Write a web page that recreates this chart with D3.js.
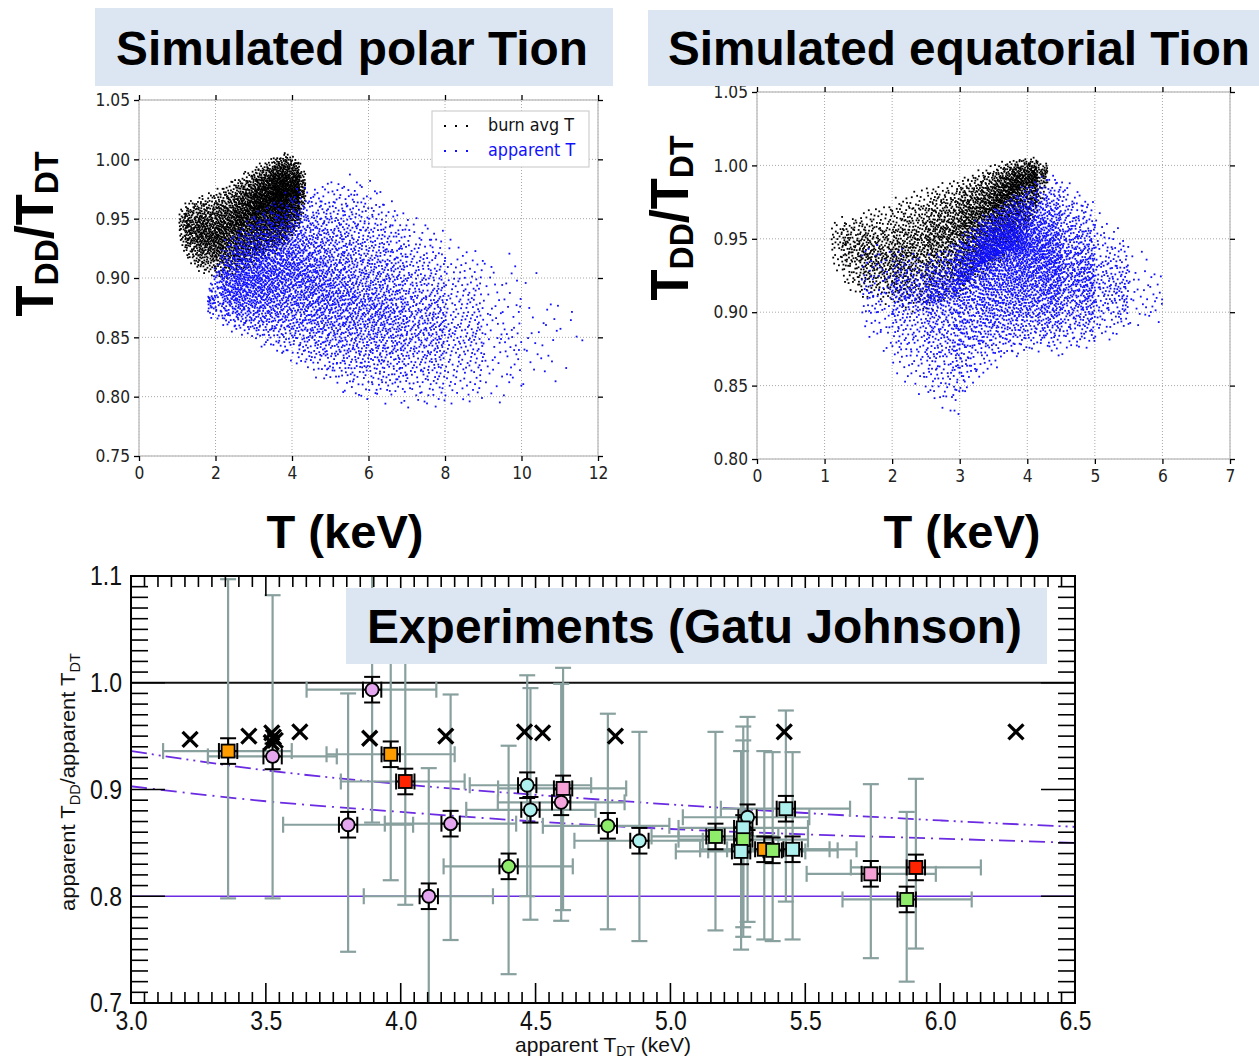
<!DOCTYPE html>
<html><head><meta charset="utf-8">
<script src="https://cdn.jsdelivr.net/npm/d3@7"></script>
<style>body{margin:0;background:#fff}svg{display:block}</style>
</head><body>
<svg id="c" width="1259" height="1062"></svg>
<script>
// ================= DATA =================
// Scatter clouds: profiles (x knot, lower edge, densest y, upper edge, points per 0.1 keV)
const polarBurnX    = [1.05, 1.2, 1.5, 2.0, 2.5, 3.0, 3.5, 3.9, 4.2, 4.35];
const polarBurnLo   = [0.928, 0.918, 0.903, 0.9, 0.898, 0.907, 0.918, 0.925, 0.942, 0.958];
const polarBurnMid  = [0.945, 0.943, 0.938, 0.936, 0.944, 0.955, 0.965, 0.97, 0.972, 0.975];
const polarBurnHi   = [0.96, 0.966, 0.97, 0.976, 0.986, 0.995, 1.003, 1.008, 1.0, 0.992];
const polarBurnN    = [4, 35, 65, 80, 95, 125, 165, 175, 70, 6];

const polarAppX     = [1.8, 2.15, 2.5, 3.0, 4.0, 5.0, 5.7, 6.5, 7.0, 8.0, 9.0, 10.0, 11.0, 11.6];
const polarAppLo    = [0.866, 0.858, 0.852, 0.845, 0.826, 0.806, 0.794, 0.792, 0.788, 0.787, 0.787, 0.795, 0.81, 0.84];
const polarAppMid   = [0.878, 0.893, 0.895, 0.90, 0.905, 0.892, 0.885, 0.876, 0.87, 0.86, 0.855, 0.85, 0.85, 0.85];
const polarAppHi    = [0.89, 0.93, 0.942, 0.957, 0.977, 0.987, 0.992, 0.973, 0.962, 0.942, 0.93, 0.922, 0.895, 0.862];
const polarAppN     = [3, 36, 60, 78, 85, 80, 72, 62, 52, 32, 13, 4, 1.5, 0.5];

const eqBurnX       = [1.1, 1.25, 1.5, 2.0, 2.5, 3.0, 3.5, 3.9, 4.15, 4.3];
const eqBurnLo      = [0.928, 0.918, 0.908, 0.903, 0.897, 0.907, 0.927, 0.942, 0.966, 0.982];
const eqBurnMid     = [0.948, 0.946, 0.941, 0.937, 0.945, 0.955, 0.97, 0.985, 0.99, 0.995];
const eqBurnHi      = [0.964, 0.968, 0.969, 0.979, 0.988, 0.993, 1.002, 1.006, 1.006, 1.002];
const eqBurnN       = [4, 30, 55, 70, 95, 120, 160, 180, 70, 5];

const eqAppX        = [1.55, 2.0, 2.5, 2.9, 3.3, 3.7, 4.0, 4.5, 5.0, 5.5, 6.0];
const eqAppLo       = [0.886, 0.856, 0.838, 0.823, 0.853, 0.864, 0.87, 0.869, 0.874, 0.884, 0.892];
const eqAppMid      = [0.915, 0.91, 0.905, 0.91, 0.932, 0.942, 0.94, 0.932, 0.922, 0.915, 0.91];
const eqAppHi       = [0.952, 0.946, 0.94, 0.95, 0.966, 0.978, 0.99, 0.998, 0.976, 0.952, 0.934];
const eqAppN        = [5, 35, 70, 110, 170, 210, 210, 150, 65, 15, 1];

const polarXTicks = [0, 2, 4, 6, 8, 10, 12];
const polarYTicks = [0.75, 0.80, 0.85, 0.90, 0.95, 1.00, 1.05];
const eqXTicks    = [0, 1, 2, 3, 4, 5, 6, 7];
const eqYTicks    = [0.80, 0.85, 0.90, 0.95, 1.00, 1.05];
const legendLabels = ["burn avg T", "apparent T"];

// Experiments (bottom panel)
const expT   = [3.36, 3.525, 3.805, 3.894, 3.963, 4.017, 4.104, 4.185, 4.400, 4.469, 4.481, 4.602, 4.595, 4.768, 4.885, 5.167, 5.286, 5.27, 5.27, 5.262, 5.348, 5.379, 5.453, 5.428, 5.743, 5.91, 5.876];
const expR   = [0.936, 0.931, 0.867, 0.9935, 0.933, 0.9075, 0.800, 0.868, 0.828, 0.904, 0.881, 0.901, 0.888, 0.866, 0.852, 0.856, 0.874, 0.864, 0.853, 0.842, 0.844, 0.843, 0.844, 0.882, 0.821, 0.827, 0.797];
const expTLo = [3.119, 3.285, 3.564, 3.651, 3.725, 3.778, 3.863, 3.941, 4.159, 4.256, 4.243, 4.361, 4.36, 4.527, 4.644, 4.93, 5.046, 5.03, 5.03, 5.02, 5.11, 5.14, 5.21, 5.187, 5.505, 5.669, 5.638];
const expTHi = [3.596, 3.763, 4.046, 4.132, 4.2, 4.237, 4.342, 4.428, 4.638, 4.706, 4.722, 4.836, 4.83, 4.996, 5.12, 5.40, 5.515, 5.51, 5.51, 5.50, 5.59, 5.62, 5.69, 5.666, 5.984, 6.151, 6.117];
const expRLo = [0.798, 0.798, 0.748, 0.869, 0.815, 0.792, 0.68, 0.759, 0.727, 0.80, 0.778, 0.787, 0.777, 0.769, 0.758, 0.768, 0.776, 0.771, 0.762, 0.75, 0.7595, 0.758, 0.7595, 0.795, 0.742, 0.751, 0.72];
const expRHi = [1.097, 1.082, 0.99, 1.118, 1.051, 1.023, 0.920, 0.989, 0.941, 1.007, 0.995, 1.014, 0.999, 0.971, 0.954, 0.954, 0.968, 0.959, 0.946, 0.936, 0.936, 0.935, 0.935, 0.974, 0.905, 0.910, 0.879];
const expGroup = ['A','B','B','B','A','C','B','B','D','E','E','F','I','D','E','G','E','H','G','H','A','G','H','H','F','C','G'];
const statErrR = 0.012;   // small black error on ratio
const statErrT = 0.034;   // small black error on T

const modelT = [3.219, 3.437, 3.522, 3.528, 3.535, 3.52, 3.626, 3.885, 4.167, 4.459, 4.526, 4.796, 5.422, 6.281];
const modelR = [0.947, 0.950, 0.953, 0.949, 0.946, 0.944, 0.954, 0.948, 0.950, 0.954, 0.953, 0.950, 0.954, 0.954];

const curveT     = [3.0, 3.5, 4.0, 4.5, 5.0, 5.5, 6.0, 6.5];
const curveUpper = [0.936, 0.918, 0.905, 0.895, 0.886, 0.878, 0.871, 0.865];
const curveLower = [0.903, 0.889, 0.879, 0.870, 0.863, 0.858, 0.854, 0.850];
const refBlack = 1.0;
const refPurple = 0.8;

const bXTicks = [3.0, 3.5, 4.0, 4.5, 5.0, 5.5, 6.0, 6.5];
const bYTicks = [0.7, 0.8, 0.9, 1.0, 1.1];

// ================= STYLES =================
const groupFill  = {A:'#ff9c00', B:'#e4a6ee', C:'#ff2400', D:'#8eec6a', E:'#aef0ee', F:'#f7a2d6', G:'#8eec6a', H:'#aef0ee', I:'#f3a5dc'};
const groupShape = {A:'s', B:'c', C:'s', D:'c', E:'c', F:'s', G:'s', H:'s', I:'c'};
const BOX = '#dce6f2';
const PURPLE = '#6a2be2';
const GRAYBAR = '#88a09e';

const svg = d3.select('#c');
svg.append('rect').attr('width',1259).attr('height',1062).attr('fill','#fff');
const defs = svg.append('defs');

function halton(i,b){let f=1,r=0;while(i>0){f/=b;r+=f*(i%b);i=Math.floor(i/b);}return r;}
// spread points of a profile over its band (denser near the densest line, thinning toward the edges)
function cloud(xs,lo,mid,hi,dens,seed){
  const pts=[]; let idx=seed;
  for(let i=0;i<xs.length-1;i++){
    const w=xs[i+1]-xs[i];
    const n=Math.round((dens[i]+dens[i+1])/2*w*10);
    for(let k=0;k<n;k++){
      idx++;
      const u=halton(idx,2), v=halton(idx,3);
      const x=xs[i]+u*w;
      const L=lo[i]+(lo[i+1]-lo[i])*u, M=mid[i]+(mid[i+1]-mid[i])*u, H=hi[i]+(hi[i+1]-hi[i])*u;
      const t=2*v-1, a=Math.abs(t);
      const s=Math.sign(t)*(0.12*a+0.88*(1-Math.sqrt(1-a)));
      const y = s<0 ? M+s*(M-L) : M+s*(H-M);
      pts.push([x,y]);
    }
  }
  return pts;
}

function topPanel(id, xs, ys, xTicks, yTicks, series){
  const g=svg.append('g');
  const [x0,x1]=xs.range(), [y0,y1]=ys.range();
  g.append('g').selectAll('line').data(xTicks).join('line')
    .attr('x1',d=>xs(d)).attr('x2',d=>xs(d)).attr('y1',y0).attr('y2',y1)
    .attr('stroke','#a8a8a8').attr('stroke-dasharray','1,2');
  g.append('g').selectAll('line').data(yTicks).join('line')
    .attr('y1',d=>ys(d)).attr('y2',d=>ys(d)).attr('x1',x0).attr('x2',x1)
    .attr('stroke','#a8a8a8').attr('stroke-dasharray','1,2');
  defs.append('clipPath').attr('id',id).append('rect')
    .attr('x',x0).attr('y',y1).attr('width',x1-x0).attr('height',y0-y1);
  series.forEach((s,si)=>{
    const pts=cloud(s.x,s.lo,s.mid,s.hi,s.n,1+si*7919);
    g.append('g').attr('clip-path',`url(#${id})`).selectAll('rect').data(pts).join('rect')
      .attr('x',d=>xs(d[0])-0.9).attr('y',d=>ys(d[1])-0.9)
      .attr('width',1.8).attr('height',1.8).attr('fill',s.color);
  });
  g.append('rect').attr('x',x0).attr('y',y1).attr('width',x1-x0).attr('height',y0-y1)
    .attr('fill','none').attr('stroke','#c4c4c4').attr('stroke-width',1.5);
  const axes=[
    [d3.axisBottom(xs).tickValues(xTicks).tickFormat(d3.format('d')), `translate(0,${y0})`],
    [d3.axisTop(xs).tickValues(xTicks).tickFormat(''), `translate(0,${y1})`],
    [d3.axisLeft(ys).tickValues(yTicks).tickFormat(d3.format('.2f')), `translate(${x0},0)`],
    [d3.axisRight(ys).tickValues(yTicks).tickFormat(''), `translate(${x1},0)`]
  ];
  axes.forEach(([a,tr])=>{
    const ag=g.append('g').attr('transform',tr).call(a.tickSizeInner(5).tickSizeOuter(0).tickPadding(4));
    ag.select('.domain').remove();
    ag.selectAll('line').attr('stroke','#000').attr('stroke-width',1.3);
    ag.selectAll('text').attr('font-family','DejaVu Sans, sans-serif').attr('font-size',15.5)
      .attr('fill','#222').attr('transform','scale(1,1.15)');
  });
  return g;
}

// ---- top-left (polar)
const xTL=d3.scaleLinear().domain([0,12]).range([139,598]);
const yTL=d3.scaleLinear().domain([0.75,1.05]).range([456,100]);
const gTL=topPanel('clipTL',xTL,yTL,polarXTicks,polarYTicks,[
  {x:polarBurnX,lo:polarBurnLo,mid:polarBurnMid,hi:polarBurnHi,n:polarBurnN,color:'#000'},
  {x:polarAppX,lo:polarAppLo,mid:polarAppMid,hi:polarAppHi,n:polarAppN,color:'#1010ff'}
]);
// legend
const lg=gTL.append('g');
lg.append('rect').attr('x',432).attr('y',111).attr('width',157).attr('height',56)
  .attr('fill','#fff').attr('stroke','#cfcfcf').attr('stroke-width',1.2);
legendLabels.forEach((lab,i)=>{
  const yy=126+i*25;
  [445,456,467].forEach(xx=>lg.append('rect').attr('x',xx-1).attr('y',yy-1).attr('width',2).attr('height',2)
     .attr('fill',i?'#1010ff':'#000'));
  lg.append('text').attr('transform',`translate(488,${yy+5}) scale(1,1.15)`)
    .attr('font-family','DejaVu Sans, sans-serif').attr('font-size',16)
    .attr('fill',i?'#1010ff':'#111').text(lab);
});

// ---- top-right (equatorial)
const xTR=d3.scaleLinear().domain([0,7]).range([757,1230]);
const yTR=d3.scaleLinear().domain([0.80,1.05]).range([459,92]);
topPanel('clipTR',xTR,yTR,eqXTicks,eqYTicks,[
  {x:eqBurnX,lo:eqBurnLo,mid:eqBurnMid,hi:eqBurnHi,n:eqBurnN,color:'#000'},
  {x:eqAppX,lo:eqAppLo,mid:eqAppMid,hi:eqAppHi,n:eqAppN,color:'#1010ff'}
]);

// ---- titles & big labels
function titleBox(x,y,w,h,tx,ty,txt,len){
  svg.append('rect').attr('x',x).attr('y',y).attr('width',w).attr('height',h).attr('fill',BOX);
  svg.append('text').attr('x',tx).attr('y',ty).attr('font-family','Liberation Sans, Arial, sans-serif')
    .attr('font-weight','bold').attr('font-size',48).attr('fill','#000')
    .attr('textLength',len).attr('lengthAdjust','spacingAndGlyphs').text(txt);
}
titleBox(95,8,518,78,116,65,'Simulated polar Tion',472);
titleBox(648,10,611,76,668,65,'Simulated equatorial Tion',582);

function ratioLabel(cx,cy){
  const t=svg.append('text').attr('transform',`translate(${cx},${cy}) rotate(-90)`)
    .attr('text-anchor','middle').attr('font-family','Liberation Sans, Arial, sans-serif')
    .attr('font-weight','bold').attr('font-size',54).attr('fill','#000')
    .attr('textLength',165).attr('lengthAdjust','spacingAndGlyphs');
  t.append('tspan').text('T');
  t.append('tspan').attr('font-size',34).attr('dy',5).text('DD');
  t.append('tspan').attr('dy',-5).text('/T');
  t.append('tspan').attr('font-size',34).attr('dy',5).text('DT');
}
ratioLabel(53,234);
ratioLabel(688,218);
[[345,'T (keV)'],[962,'T (keV)']].forEach(([cx,txt])=>{
  svg.append('text').attr('x',cx).attr('y',548).attr('text-anchor','middle')
    .attr('font-family','Liberation Sans, Arial, sans-serif').attr('font-weight','bold')
    .attr('font-size',46).attr('textLength',157).attr('lengthAdjust','spacingAndGlyphs').text(txt);
});

// ================= BOTTOM PANEL =================
const xB=d3.scaleLinear().domain([3,6.5]).range([131,1075]);
const yB=d3.scaleLinear().domain([0.7,1.1]).range([1003,576]);
defs.append('clipPath').attr('id','clipB').append('rect').attr('x',131).attr('y',576).attr('width',944).attr('height',427);
const gB=svg.append('g');
const gc=gB.append('g').attr('clip-path','url(#clipB)');

gc.append('line').attr('x1',xB(3)).attr('x2',xB(6.5)).attr('y1',yB(refPurple)).attr('y2',yB(refPurple))
  .attr('stroke',PURPLE).attr('stroke-width',1.6);
gc.append('line').attr('x1',xB(3)).attr('x2',xB(6.5)).attr('y1',yB(refBlack)).attr('y2',yB(refBlack))
  .attr('stroke','#111').attr('stroke-width',2);
const lineGen=d3.line().x(d=>xB(d[0])).y(d=>yB(d[1])).curve(d3.curveMonotoneX);
gc.append('path').attr('d',lineGen(curveT.map((t,i)=>[t,curveUpper[i]]))).attr('fill','none')
  .attr('stroke',PURPLE).attr('stroke-width',1.8).attr('stroke-dasharray','16,5,2,5,2,5');
gc.append('path').attr('d',lineGen(curveT.map((t,i)=>[t,curveLower[i]]))).attr('fill','none')
  .attr('stroke',PURPLE).attr('stroke-width',1.8).attr('stroke-dasharray','16,6,2,6');

const pts=expT.map((t,i)=>({t,r:expR[i],tl:expTLo[i],th:expTHi[i],rl:expRLo[i],rh:expRHi[i],g:expGroup[i]}));
// gray (systematic) error bars
const gb=gc.append('g').attr('stroke',GRAYBAR).attr('stroke-width',2.2).attr('fill','none');
pts.forEach(p=>{
  const x=xB(p.t), y=yB(p.r);
  gb.append('line').attr('x1',x).attr('x2',x).attr('y1',yB(p.rl)).attr('y2',yB(p.rh));
  gb.append('line').attr('x1',x-8).attr('x2',x+8).attr('y1',yB(p.rl)).attr('y2',yB(p.rl));
  gb.append('line').attr('x1',x-8).attr('x2',x+8).attr('y1',yB(p.rh)).attr('y2',yB(p.rh));
  gb.append('line').attr('x1',xB(p.tl)).attr('x2',xB(p.th)).attr('y1',y).attr('y2',y);
  gb.append('line').attr('x1',xB(p.tl)).attr('x2',xB(p.tl)).attr('y1',y-8).attr('y2',y+8);
  gb.append('line').attr('x1',xB(p.th)).attr('x2',xB(p.th)).attr('y1',y-8).attr('y2',y+8);
});
// crosses (model)
const gx=gc.append('g').attr('stroke','#000').attr('stroke-width',3.3);
modelT.forEach((t,i)=>{
  const x=xB(t), y=yB(modelR[i]), s=7.5;
  gx.append('path').attr('d',`M${x-s},${y-s}L${x+s},${y+s}M${x-s},${y+s}L${x+s},${y-s}`);
});
// black stat error bars
const gs=gc.append('g').attr('stroke','#000').attr('stroke-width',2).attr('fill','none');
pts.forEach(p=>{
  const x=xB(p.t), y=yB(p.r);
  const ya=yB(p.r+statErrR), yb=yB(p.r-statErrR), xa=xB(p.t-statErrT), xb=xB(p.t+statErrT);
  gs.append('line').attr('x1',x).attr('x2',x).attr('y1',ya).attr('y2',yb);
  gs.append('line').attr('x1',x-8).attr('x2',x+8).attr('y1',ya).attr('y2',ya);
  gs.append('line').attr('x1',x-8).attr('x2',x+8).attr('y1',yb).attr('y2',yb);
  gs.append('line').attr('x1',xa).attr('x2',xb).attr('y1',y).attr('y2',y);
  gs.append('line').attr('x1',xa).attr('x2',xa).attr('y1',y-8).attr('y2',y+8);
  gs.append('line').attr('x1',xb).attr('x2',xb).attr('y1',y-8).attr('y2',y+8);
});
// markers
const gm=gc.append('g').attr('stroke','#000').attr('stroke-width',1.8);
pts.forEach(p=>{
  const x=xB(p.t), y=yB(p.r);
  if(groupShape[p.g]==='s') gm.append('rect').attr('x',x-6.5).attr('y',y-6.5).attr('width',13).attr('height',13).attr('fill',groupFill[p.g]);
  else gm.append('circle').attr('cx',x).attr('cy',y).attr('r',6.5).attr('fill',groupFill[p.g]);
});

// frame + ticks
gB.append('rect').attr('x',131).attr('y',576).attr('width',944).attr('height',427)
  .attr('fill','none').attr('stroke','#000').attr('stroke-width',2);
const tk=gB.append('g').attr('stroke','#000').attr('stroke-width',1.6);
d3.range(0,71).forEach(i=>{
  const v=3+i*0.05, x=xB(v), L=(i%10===0)?20:11;
  tk.append('line').attr('x1',x).attr('x2',x).attr('y1',1003).attr('y2',1003-L);
  tk.append('line').attr('x1',x).attr('x2',x).attr('y1',576).attr('y2',576+L);
});
d3.range(0,41).forEach(i=>{
  const v=0.7+i*0.01, y=yB(v), L=(i%10===0)?34:17;
  tk.append('line').attr('x1',131).attr('x2',131+L).attr('y1',y).attr('y2',y);
  tk.append('line').attr('x1',1075).attr('x2',1075-L).attr('y1',y).attr('y2',y);
});
const axB=gB.append('g').attr('transform','translate(0,1003)')
  .call(d3.axisBottom(xB).tickValues(bXTicks).tickFormat(d3.format('.1f')).tickSize(0).tickPadding(6));
const ayB=gB.append('g').attr('transform','translate(131,0)')
  .call(d3.axisLeft(yB).tickValues(bYTicks).tickFormat(d3.format('.1f')).tickSize(0).tickPadding(9));
[axB,ayB].forEach(a=>{
  a.select('.domain').remove();
  a.selectAll('text').attr('font-family','Liberation Sans, Arial, sans-serif').attr('font-size',23)
    .attr('fill','#111').attr('transform','scale(1,1.22)');
});
// axis titles
const xt=svg.append('text').attr('x',603).attr('y',1052).attr('text-anchor','middle')
  .attr('font-family','Liberation Sans, Arial, sans-serif').attr('font-size',21).attr('fill','#111');
xt.append('tspan').text('apparent T');
xt.append('tspan').attr('font-size',14).attr('dy',4).text('DT');
xt.append('tspan').attr('dy',-4).text(' (keV)');
const yt=svg.append('text').attr('transform','translate(75,782) rotate(-90)').attr('text-anchor','middle')
  .attr('font-family','Liberation Sans, Arial, sans-serif').attr('font-size',21).attr('fill','#111')
  .attr('textLength',258).attr('lengthAdjust','spacingAndGlyphs');
yt.append('tspan').text('apparent T');
yt.append('tspan').attr('font-size',14).attr('dy',5).text('DD');
yt.append('tspan').attr('dy',-5).text('/apparent T');
yt.append('tspan').attr('font-size',14).attr('dy',5).text('DT');

titleBox(346,588,701,76,367,643,'Experiments (Gatu Johnson)',655);
</script>
</body></html>
